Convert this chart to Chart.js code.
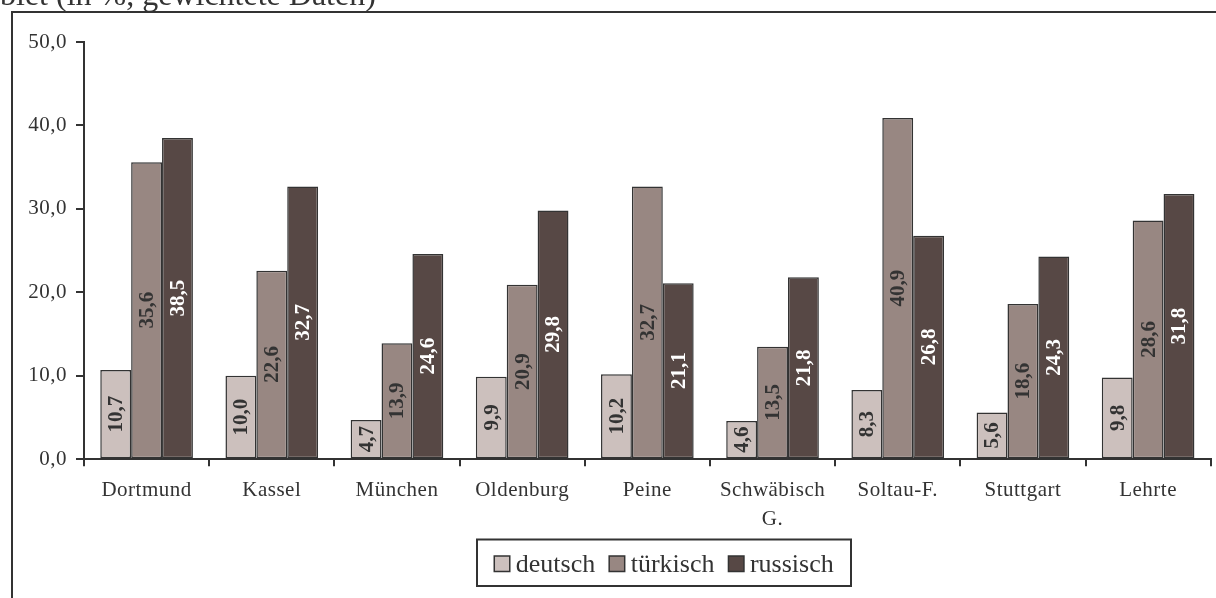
<!DOCTYPE html>
<html>
<head>
<meta charset="utf-8">
<script src="https://cdn.jsdelivr.net/npm/chart.js@4.4.1/dist/chart.umd.min.js"></script>
<style>
  html, body { margin: 0; padding: 0; background: #fff; }
  canvas { display: block; }
</style>
</head>
<body>
<canvas id="barChart" width="1216" height="598"></canvas>
<script>
// Daten
const categories = ['Dortmund', 'Kassel', 'München', 'Oldenburg', 'Peine', ['Schwäbisch', 'G.'], 'Soltau-F.', 'Stuttgart', 'Lehrte'];
const seriesNames = ['deutsch', 'türkisch', 'russisch'];
const deutsch = [10.7, 10.0, 4.7, 9.9, 10.2, 4.6, 8.3, 5.6, 9.8];
const tuerkisch = [35.6, 22.6, 13.9, 20.9, 32.7, 13.5, 40.9, 18.6, 28.6];
const russisch = [38.5, 32.7, 24.6, 29.8, 21.1, 21.8, 26.8, 24.3, 31.8];
const yMin = 0, yMax = 50, yStep = 10;
const captionText = 'biet (in %, gewichtete Daten)';

const FONT = "'Liberation Serif', 'Times New Roman', serif";
const INK = '#333333';
const fills = ['#ccc0bd', '#988782', '#574845'];
const labelColors = [INK, INK, '#ffffff'];

const fmt = v => v.toFixed(1).replace('.', ',');

// Rahmen + abgeschnittene Überschrift
const framePlugin = {
    id: 'frame',
    beforeDraw: (chart) => {
        const ctx = chart.ctx;
        ctx.save();
        ctx.fillStyle = '#ffffff';
        ctx.fillRect(0, 0, chart.width, chart.height);
        ctx.font = '32px ' + FONT;
        ctx.fillStyle = INK;
        ctx.textAlign = 'left';
        ctx.textBaseline = 'alphabetic';
        ctx.fillText(captionText, 0, 5);
        ctx.strokeStyle = INK;
        ctx.lineWidth = 2;
        ctx.beginPath();
        ctx.moveTo(12, chart.height + 2);
        ctx.lineTo(12, 12);
        ctx.lineTo(chart.width + 2, 12);
        ctx.stroke();
        ctx.restore();
        // etwas Sperrung für die Achsenbeschriftung
        ctx.letterSpacing = '0.5px';
    },
    beforeDatasetsDraw: (chart) => {
        chart.ctx.letterSpacing = '0px';
    }
};

// Werte senkrecht in den Balken
const barLabelPlugin = {
    id: 'barLabels',
    afterDatasetsDraw: (chart) => {
        const ctx = chart.ctx;
        ctx.save();
        ctx.font = 'bold 21px ' + FONT;
        ctx.textAlign = 'center';
        ctx.textBaseline = 'middle';
        chart.data.datasets.forEach((ds, i) => {
            const meta = chart.getDatasetMeta(i);
            ctx.fillStyle = labelColors[i];
            meta.data.forEach((bar, j) => {
                const cy = (bar.y + bar.base) / 2;
                ctx.save();
                ctx.translate(bar.x + 1, cy);
                ctx.rotate(-Math.PI / 2);
                ctx.fillText(fmt(ds.data[j]), 0, 0);
                ctx.restore();
            });
        });
        ctx.restore();
    }
};

// Legende mit Rahmen
const legendBoxPlugin = {
    id: 'legendBox',
    afterDraw: (chart) => {
        const ctx = chart.ctx;
        const box = { x: 477, y: 539.5, w: 374, h: 46.5 };
        const sq = 15.5, gapText = 6, gapItem = 14;
        ctx.save();
        ctx.font = '26px ' + FONT;
        const widths = chart.data.datasets.map(ds => ctx.measureText(ds.label).width);
        const total = widths.reduce((a, b) => a + b, 0) + chart.data.datasets.length * (sq + gapText) + (chart.data.datasets.length - 1) * gapItem;
        let x = box.x + (box.w - total) / 2;
        const cy = box.y + box.h / 2 + 0.5;
        ctx.strokeStyle = INK;
        ctx.lineWidth = 2;
        ctx.strokeRect(box.x, box.y, box.w, box.h);
        chart.data.datasets.forEach((ds, i) => {
            ctx.fillStyle = ds.backgroundColor;
            ctx.fillRect(x, cy - sq / 2 + 0.5, sq, sq);
            ctx.lineWidth = 1.5;
            ctx.strokeRect(x, cy - sq / 2 + 0.5, sq, sq);
            x += sq + gapText;
            ctx.fillStyle = INK;
            ctx.textAlign = 'left';
            ctx.textBaseline = 'alphabetic';
            ctx.fillText(ds.label, x, cy + 9);
            x += widths[i] + gapItem;
        });
        ctx.restore();
    }
};

function makeDataset(label, data, i) {
    return {
        label: label,
        data: data,
        backgroundColor: fills[i],
        borderColor: INK,
        borderWidth: 1.5,
        borderSkipped: false,
        categoryPercentage: 0.74,
        barPercentage: 1.0
    };
}

const ctxBar = document.getElementById('barChart').getContext('2d');
const barChart = new Chart(ctxBar, {
    type: 'bar',
    plugins: [framePlugin, barLabelPlugin, legendBoxPlugin],
    data: {
        labels: categories,
        datasets: [
            makeDataset(seriesNames[0], deutsch, 0),
            makeDataset(seriesNames[1], tuerkisch, 1),
            makeDataset(seriesNames[2], russisch, 2)
        ]
    },
    options: {
        responsive: false,
        animation: false,
        layout: { padding: { left: 0, right: 5.3, top: 42, bottom: 0 } },
        plugins: {
            legend: { display: false },
            tooltip: { enabled: false }
        },
        scales: {
            x: {
                grid: { display: true, drawOnChartArea: false, drawTicks: true, tickLength: 7, color: INK, lineWidth: 2, offset: true },
                border: { display: true, color: INK, width: 2 },
                ticks: {
                    color: INK,
                    font: { family: FONT, size: 21, lineHeight: 1.4 },
                    padding: 9,
                    maxRotation: 0,
                    autoSkip: false
                },
                afterFit: (axis) => { axis.height = 138.7; }
            },
            y: {
                min: yMin,
                max: yMax,
                grid: { display: true, drawOnChartArea: false, drawTicks: true, tickLength: 8, color: INK, lineWidth: 2 },
                border: { display: true, color: INK, width: 2 },
                ticks: {
                    stepSize: yStep,
                    color: INK,
                    font: { family: FONT, size: 21 },
                    padding: 9,
                    callback: (v) => fmt(v)
                },
                afterFit: (axis) => { axis.width = 84; }
            }
        }
    }
});
</script>
</body>
</html>
